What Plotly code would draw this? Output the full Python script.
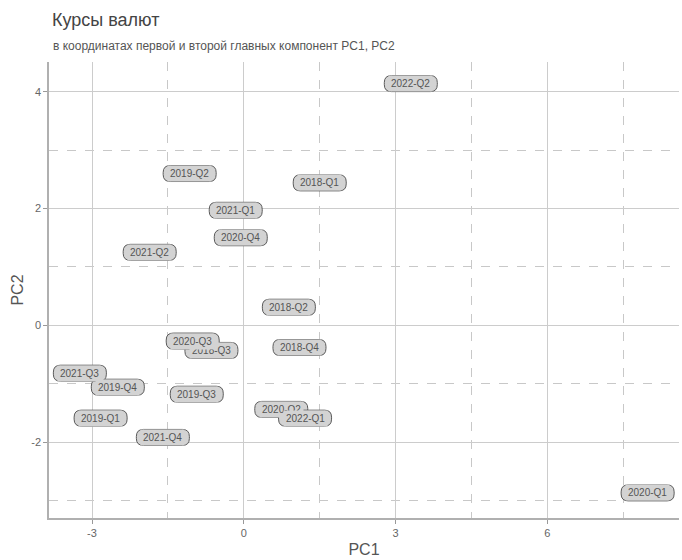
import plotly.graph_objects as go

quarters = ["2018-Q1", "2018-Q2", "2018-Q3", "2018-Q4",
            "2019-Q1", "2019-Q2", "2019-Q3", "2019-Q4",
            "2020-Q1", "2020-Q2", "2020-Q3", "2020-Q4",
            "2021-Q1", "2021-Q2", "2021-Q3", "2021-Q4",
            "2022-Q1", "2022-Q2"]
pc1 = [1.50, 0.89, -0.64, 1.10,
       -2.83, -1.07, -0.93, -2.49,
       7.98, 0.74, -1.01, -0.06,
       -0.16, -1.86, -3.24, -1.60,
       1.21, 3.30]
pc2 = [2.44, 0.31, -0.43, -0.38,
       -1.59, 2.60, -1.18, -1.06,
       -2.87, -1.44, -0.27, 1.50,
       1.97, 1.25, -0.82, -1.92,
       -1.59, 4.14]

x_ticks = [-3, 0, 3, 6]
x_tick_labels = ["-3", "0", "3", "6"]
y_ticks = [-2, 0, 2, 4]
y_tick_labels = ["-2", "0", "2", "4"]

FONT = "Liberation Sans, Arial, sans-serif"
TXT = "#555555"
FILL = "#d3d3d3"

# rounded rectangle in pixel units, anchored at the data point
w, h, r = 26.5, 8, 7
path = (f"M {-w + r},{-h} L {w - r},{-h} Q {w},{-h} {w},{-h + r} "
        f"L {w},{h - r} Q {w},{h} {w - r},{h} L {-w + r},{h} "
        f"Q {-w},{h} {-w},{h - r} L {-w},{-h + r} Q {-w},{-h} {-w + r},{-h} Z")

fig = go.Figure()
fig.add_trace(go.Scatter(x=pc1, y=pc2, mode="markers",
                         marker=dict(size=1, color="rgba(0,0,0,0)"),
                         hoverinfo="skip", showlegend=False))

shapes = []
annotations = []
for q, a, b in zip(quarters, pc1, pc2):
    shapes.append(dict(type="path", xref="x", yref="y",
                       xsizemode="pixel", ysizemode="pixel",
                       xanchor=a, yanchor=b, path=path,
                       fillcolor=FILL, line=dict(color="#5a5a5a", width=1),
                       layer="above"))
    annotations.append(dict(x=a, y=b, xref="x", yref="y", text=q,
                            showarrow=False, bgcolor=FILL, borderpad=2,
                            font=dict(family=FONT, size=10, color=TXT)))

annotations += [
    dict(text="Курсы валют", xref="paper", yref="paper", x=0.0, y=1.0,
         xanchor="left", yanchor="bottom", yshift=30, xshift=1, showarrow=False,
         font=dict(family=FONT, size=18, color="#444444")),
    dict(text="в координатах первой и второй главных компонент PC1, PC2",
         xref="paper", yref="paper", x=0.0, y=1.0, xanchor="left",
         yanchor="bottom", yshift=7, xshift=2, showarrow=False,
         font=dict(family=FONT, size=12, color=TXT)),
]

axis_common = dict(
    showline=True, linecolor="#b0b0b0", linewidth=1.5,
    ticks="outside", ticklen=4, tickcolor="#999999", tickwidth=1,
    tickfont=dict(family=FONT, size=11, color="#666666"),
    showgrid=True, gridcolor="#cccccc", gridwidth=1,
    zeroline=False, mirror=False, automargin=False,
)

fig.update_layout(
    width=682, height=560,
    margin=dict(l=49, r=3, t=62, b=42),
    plot_bgcolor="white", paper_bgcolor="white",
    shapes=shapes, annotations=annotations,
    xaxis=dict(range=[-3.85, 8.6], tickvals=x_ticks, ticktext=x_tick_labels,
               minor=dict(dtick=1.5, tick0=-1.5, showgrid=True,
                          gridcolor="#c8c8c8", griddash="dash", gridwidth=1, ticks=""),
               title=dict(text="PC1", standoff=6,
                          font=dict(family=FONT, size=16, color=TXT)),
               **axis_common),
    yaxis=dict(range=[-3.3, 4.51], tickvals=y_ticks, ticktext=y_tick_labels,
               minor=dict(dtick=1, tick0=-3, showgrid=True,
                          gridcolor="#c8c8c8", griddash="dash", gridwidth=1, ticks=""),
               title=dict(text="PC2", standoff=4,
                          font=dict(family=FONT, size=16, color=TXT)),
               **axis_common),
)

fig.write_html("out.html", config={"displayModeBar": False},
               post_script="document.body.style.margin='0';document.body.style.overflow='hidden';")
